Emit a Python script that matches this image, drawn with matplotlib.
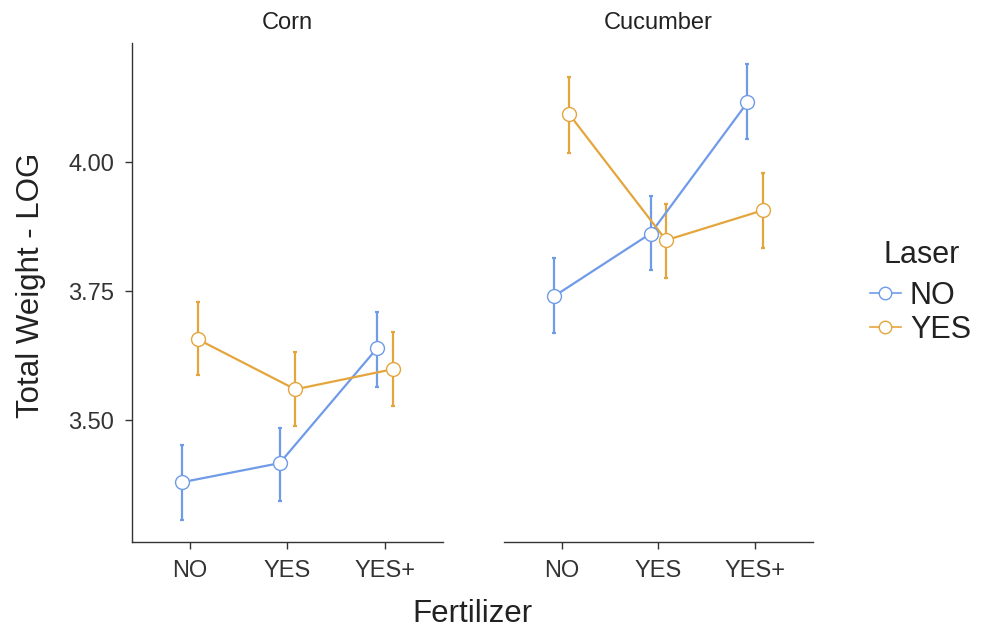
import numpy as np
import matplotlib
matplotlib.use("Agg")
import matplotlib.pyplot as plt
from matplotlib.lines import Line2D

plt.rcParams['font.family'] = ['Liberation Sans', 'DejaVu Sans']

crops = ['Corn', 'Cucumber']
fertilizer = ['NO', 'YES', 'YES+']
laser = ['NO', 'YES']

# means and error bar ends, per crop, per laser level
mean = {
    'Corn': {'NO': [3.380, 3.417, 3.640], 'YES': [3.657, 3.560, 3.599]},
    'Cucumber': {'NO': [3.740, 3.862, 4.116], 'YES': [4.093, 3.849, 3.907]},
}
lower = {
    'Corn': {'NO': [3.306, 3.343, 3.564], 'YES': [3.587, 3.488, 3.527]},
    'Cucumber': {'NO': [3.669, 3.791, 4.045], 'YES': [4.019, 3.775, 3.833]},
}
upper = {
    'Corn': {'NO': [3.452, 3.486, 3.709], 'YES': [3.729, 3.632, 3.671]},
    'Cucumber': {'NO': [3.814, 3.934, 4.190], 'YES': [4.165, 3.920, 3.979]},
}

colors = {'NO': '#6f9be8', 'YES': '#e5a53d'}
dodge = {'NO': -0.08, 'YES': 0.08}

fig = plt.figure(figsize=(9.9, 6.34), dpi=100)
ax1 = fig.add_axes([0.1333, 0.145, 0.3142, 0.787])
ax2 = fig.add_axes([0.509, 0.145, 0.312, 0.787])

x = np.arange(1, len(fertilizer) + 1)
for ax, crop in zip([ax1, ax2], crops):
    for lv in laser:
        m = np.array(mean[crop][lv])
        lo = m - np.array(lower[crop][lv])
        hi = np.array(upper[crop][lv]) - m
        xs = x + dodge[lv]
        ax.errorbar(xs, m, yerr=[lo, hi], fmt='none', ecolor=colors[lv],
                    elinewidth=1.6, capsize=1.6, capthick=1.6, zorder=2)
        ax.plot(xs, m, '-', color=colors[lv], lw=1.6, zorder=3)
        ax.plot(xs, m, 'o', ms=10, mfc='white', mec=colors[lv], mew=1.0, zorder=4)
    ax.set_xlim(0.405, 3.595)
    ax.set_ylim(3.264, 4.231)
    ax.set_xticks(x)
    ax.set_xticklabels(fertilizer)
    ax.set_yticks([3.50, 3.75, 4.00])
    ax.set_yticklabels(['3.50', '3.75', '4.00'])
    ax.set_title(crop, fontsize=17, color='#222222', pad=10)
    for s in ['top', 'right']:
        ax.spines[s].set_visible(False)
    for s in ['left', 'bottom']:
        ax.spines[s].set_color('#333333')
        ax.spines[s].set_linewidth(1.0)
    ax.tick_params(labelsize=17, colors='#333333', labelcolor='#333333',
                   length=5, width=1.0, pad=8)

ax2.spines['left'].set_visible(False)
ax2.tick_params(axis='y', left=False, labelleft=False)

fig.text(0.477, 0.032, 'Fertilizer', fontsize=22.5, ha='center', va='center', color='#222222')
fig.text(0.031, 0.55, 'Total Weight - LOG', fontsize=22.5, ha='center', va='center',
         rotation=90, color='#222222')

# legend: title drawn on its own, indented like the original
fig.text(883 / 990, 1 - 255 / 634, 'Laser', fontsize=22, ha='left', va='center',
         color='#222222')
handles = [Line2D([], [], color=colors[lv], lw=1.2, marker='o', ms=9,
                  mfc='white', mec=colors[lv], mew=1.0) for lv in laser]
leg = fig.legend(handles, laser, loc='center left',
                 bbox_to_anchor=(864 / 990, 1 - 313 / 634), frameon=False, fontsize=22,
                 handlelength=1.0, handletextpad=0.3,
                 labelspacing=0.12, borderaxespad=0, borderpad=0.2)
for t in leg.get_texts():
    t.set_color('#222222')

fig.savefig('out.png', dpi=100)
